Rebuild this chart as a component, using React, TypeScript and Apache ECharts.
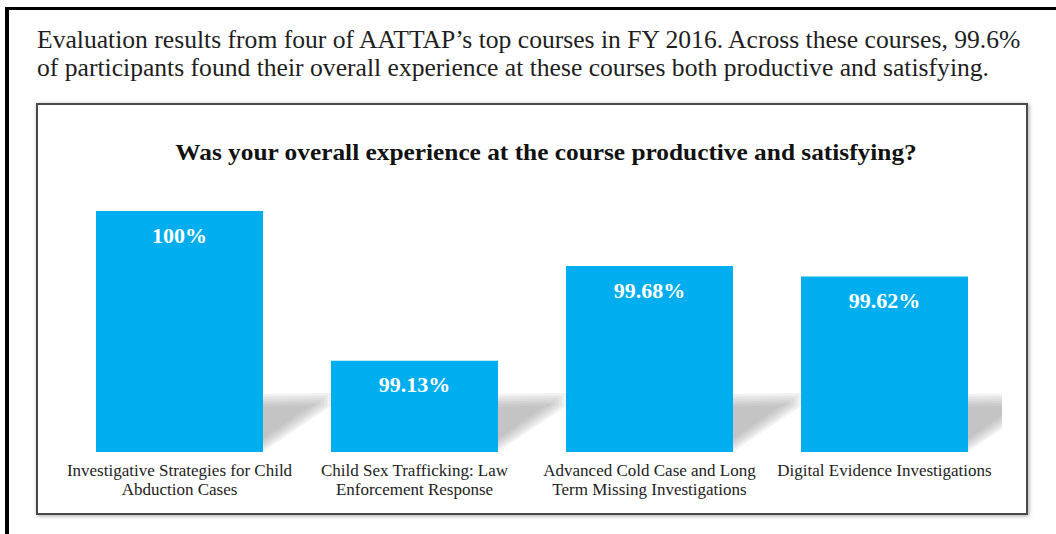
import React, { useEffect, useRef } from "react";
import * as echarts from "echarts";

const captionLines = [
  "Evaluation results from four of AATTAP\u2019s top courses in FY 2016. Across these courses, 99.6%",
  "of participants found their overall experience at these courses both productive and satisfying.",
];
const chartTitle = "Was your overall experience at the course productive and satisfying?";
const courses = [
  "Investigative Strategies for Child\nAbduction Cases",
  "Child Sex Trafficking: Law\nEnforcement Response",
  "Advanced Cold Case and Long\nTerm Missing Investigations",
  "Digital Evidence Investigations",
];
const satisfiedPct = [100, 99.13, 99.68, 99.62];
const yMin = 98.6;
const yMax = 100;

const SERIF = '"Liberation Serif", "Times New Roman", "DejaVu Serif", serif';
const BAR_W = 167;

function measure(text: string, font: string): number {
  const ctx = document.createElement("canvas").getContext("2d");
  if (!ctx) return 0;
  ctx.font = font;
  return ctx.measureText(text).width;
}

export default function App() {
  const ref = useRef<HTMLDivElement>(null);

  useEffect(() => {
    if (!ref.current) return;
    const chart = echarts.init(ref.current, undefined, { renderer: "svg" });

    const capFont = `24.5px ${SERIF}`;
    const capW = Math.max(measure(captionLines[0], capFont), 1);
    const capScale = 988 / capW;
    const titleFont = `bold 24px ${SERIF}`;
    const titleW = Math.max(measure(chartTitle, titleFont), 1);
    const titleScale = 742 / titleW;

    const option: any = {
      animation: false,
      backgroundColor: "#ffffff",
      graphic: [
        { type: "rect", z: 0, shape: { x: 37, y: 104, width: 990, height: 410 },
          style: { fill: "#ffffff", stroke: "#4a4a4a", lineWidth: 2, shadowBlur: 4, shadowColor: "rgba(0,0,0,0.35)", shadowOffsetY: 1, shadowOffsetX: 1 } },
        { type: "rect", z: 0, shape: { x: 5, y: 7, width: 1051, height: 3 }, style: { fill: "#000000" } },
        { type: "rect", z: 0, shape: { x: 5, y: 7, width: 4, height: 527 }, style: { fill: "#000000" } },
        { type: "text", z: 5, x: 37, y: 40, scaleX: capScale,
          style: { text: captionLines[0], font: capFont, fill: "#1e1e1e", align: "left", verticalAlign: "middle" } },
        { type: "text", z: 5, x: 37, y: 67.5, scaleX: capScale,
          style: { text: captionLines[1], font: capFont, fill: "#1e1e1e", align: "left", verticalAlign: "middle" } },
        { type: "text", z: 5, x: 546, y: 151.5, scaleX: titleScale,
          style: { text: chartTitle, font: titleFont, fill: "#111111", align: "center", verticalAlign: "middle" } },
      ],
      grid: { left: 62, right: 54, top: 211, bottom: 82, containLabel: false },
      xAxis: {
        type: "category",
        data: courses,
        axisLine: { show: false },
        axisTick: { show: false },
        axisLabel: {
          interval: 0,
          margin: 9,
          color: "#222222",
          fontFamily: SERIF,
          fontSize: 17,
          lineHeight: 19,
        },
      },
      yAxis: {
        type: "value",
        min: yMin,
        max: yMax,
        show: false,
        splitLine: { show: false },
      },
      series: [
        {
          type: "custom",
          z: 1,
          silent: true,
          clip: true,
          data: satisfiedPct.map((v, i) => [i, v]),
          renderItem: (params: any, api: any) => {
            const i = api.value(0);
            const base = api.coord([i, yMin]);
            const xr = base[0] + BAR_W / 2;
            const yb = base[1];
            const layers: any[] = [];
            for (let k = 0; k < 6; k++) {
              const d = k * 2.5;
              layers.push({
                type: "polygon",
                shape: {
                  points: [
                    [xr - 2, yb - 58 + d],
                    [xr + 68 - d * 1.4, yb - 59 + d],
                    [xr + 68 - d * 1.4, yb - 46 - d * 0.2],
                    [xr - 2, yb + 1 - d],
                  ],
                },
                style: { fill: "rgba(150,150,150,0.12)" },
              });
            }
            return { type: "group", children: layers };
          },
        },
        {
          type: "bar",
          z: 3,
          data: satisfiedPct,
          barWidth: BAR_W,
          itemStyle: { color: "#00aeef" },
          label: {
            show: true,
            position: "insideTop",
            distance: 13,
            formatter: (p: any) => `${p.value}%`,
            color: "#ffffff",
            fontFamily: SERIF,
            fontWeight: "bold",
            fontSize: 22,
          },
        },
      ],
    };

    chart.setOption(option);
    return () => chart.dispose();
  }, []);

  return (
    <div
      ref={ref}
      style={{ position: "fixed", left: 0, top: 0, width: 1056, height: 534, background: "#fff" }}
    />
  );
}
